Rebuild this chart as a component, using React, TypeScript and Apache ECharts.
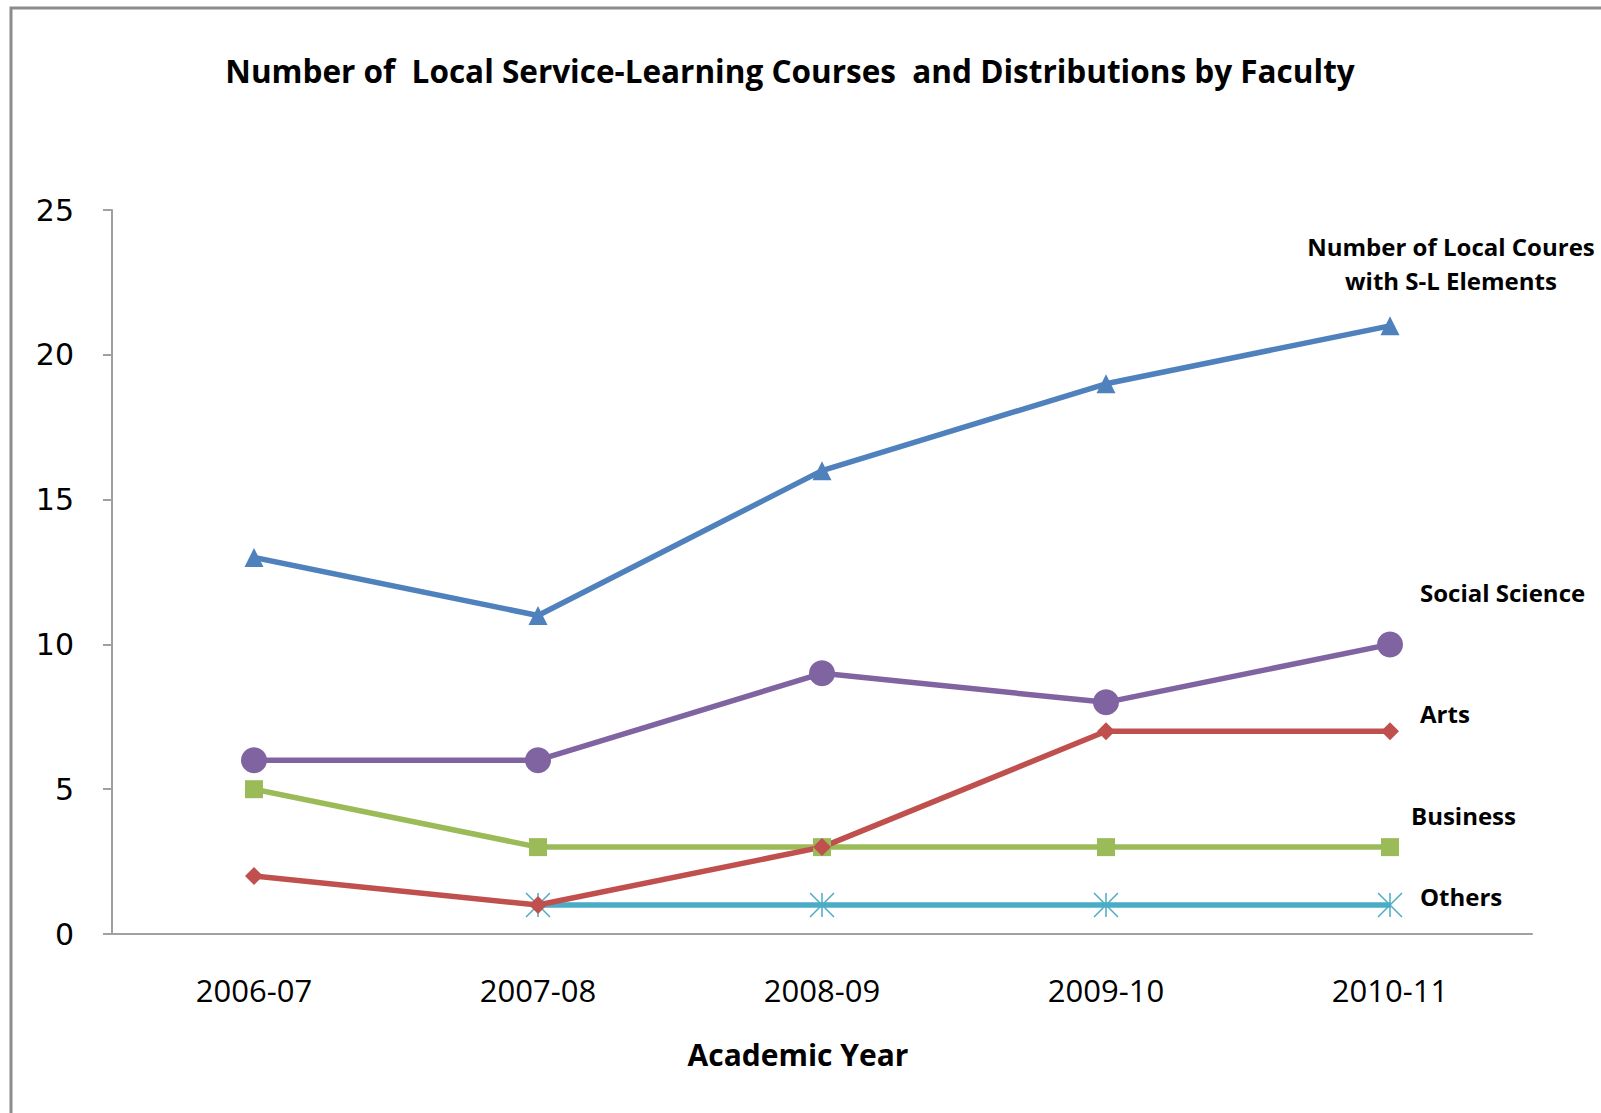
import React, { useEffect, useRef } from "react";
import * as echarts from "echarts";

const years = ["2006-07", "2007-08", "2008-09", "2009-10", "2010-11"];
const totalCourses = [13, 11, 16, 19, 21];
const socialScience = [6, 6, 9, 8, 10];
const arts = [2, 1, 3, 7, 7];
const business = [5, 3, 3, 3, 3];
const others = [null, 1, 1, 1, 1];
const yTicks = [0, 5, 10, 15, 20, 25];

const titleText = "Number of  Local Service-Learning Courses  and Distributions by Faculty";
const labelFont = "Open Sans";

export default function App() {
  const ref = useRef<HTMLDivElement>(null);
  useEffect(() => {
    const chart = echarts.init(ref.current!, null, { renderer: "svg" });
    const lineSeries = (name: string, data: any[], color: string, symbol: string, size: number, extra: any = {}) => ({
      name,
      type: "line",
      data,
      symbol,
      symbolSize: size,
      lineStyle: { color, width: 5.5 },
      itemStyle: { color, ...(extra.itemStyle || {}) },
      z: extra.z || 2,
      connectNulls: false,
    });
    const endLabel = (text: string, x: number, y: number) => ({
      type: "text",
      x,
      y,
      style: { text, fontFamily: labelFont, fontWeight: "bold", fontSize: 24, fill: "#000", verticalAlign: "middle" },
    });
    chart.setOption({
      animation: false,
      backgroundColor: "#ffffff",
      title: {
        text: titleText,
        left: 785,
        top: 49,
        textAlign: "center",
        textStyle: { fontFamily: labelFont, fontWeight: "bold", fontSize: 31.5, color: "#000" },
      },
      grid: { left: 112, right: 69, top: 210, bottom: 179 },
      xAxis: {
        type: "category",
        data: years,
        boundaryGap: true,
        axisLine: { lineStyle: { color: "#a0a0a0", width: 2 } },
        axisTick: { show: false },
        axisLabel: { fontFamily: labelFont, fontSize: 31, color: "#000", margin: 40 },
        name: "Academic Year",
        nameLocation: "middle",
        nameGap: 105,
        nameTextStyle: { fontFamily: labelFont, fontWeight: "bold", fontSize: 30, color: "#000", padding: [0, 48, 0, 0] },
      },
      yAxis: {
        type: "value",
        min: yTicks[0],
        max: yTicks[yTicks.length - 1],
        interval: 5,
        splitLine: { show: false },
        axisLine: { show: true, lineStyle: { color: "#a0a0a0", width: 2 } },
        axisTick: { show: true, length: 9, lineStyle: { color: "#a0a0a0", width: 2 } },
        axisLabel: { fontFamily: "DejaVu Sans", fontSize: 30, color: "#000", margin: 38 },
      },
      series: [
        lineSeries("Others", others, "#4BACC6", "path://M0,0L10,10M10,0L0,10M5,0L5,10", 24, {
          itemStyle: { borderColor: "#4BACC6", borderWidth: 1.5 },
          z: 1,
        }),
        lineSeries("Business", business, "#9BBB59", "rect", 18),
        lineSeries("Arts", arts, "#C0504D", "diamond", 18),
        lineSeries("Social Science", socialScience, "#8064A2", "circle", 26),
        lineSeries("Number of Local Coures with S-L Elements", totalCourses, "#4F81BD", "triangle", 19),
      ],
      graphic: [
        {
          type: "rect",
          shape: { x: 11, y: 8, width: 1620, height: 1130 },
          style: { fill: "none", stroke: "#8c8c8c", lineWidth: 3 },
          silent: true,
        },
        {
          type: "text",
          x: 1451,
          y: 263,
          style: {
            text: "Number of Local Coures\nwith S-L Elements",
            fontFamily: labelFont,
            fontWeight: "bold",
            fontSize: 24,
            lineHeight: 34,
            fill: "#000",
            align: "center",
            verticalAlign: "middle",
          },
        },
        endLabel("Social Science", 1420, 592),
        endLabel("Arts", 1420, 713),
        endLabel("Business", 1411, 815),
        endLabel("Others", 1420, 896),
      ],
    });
    return () => chart.dispose();
  }, []);
  return (
    <div
      ref={ref}
      style={{ position: "absolute", left: 0, top: 0, width: 1601, height: 1113 }}
    />
  );
}
